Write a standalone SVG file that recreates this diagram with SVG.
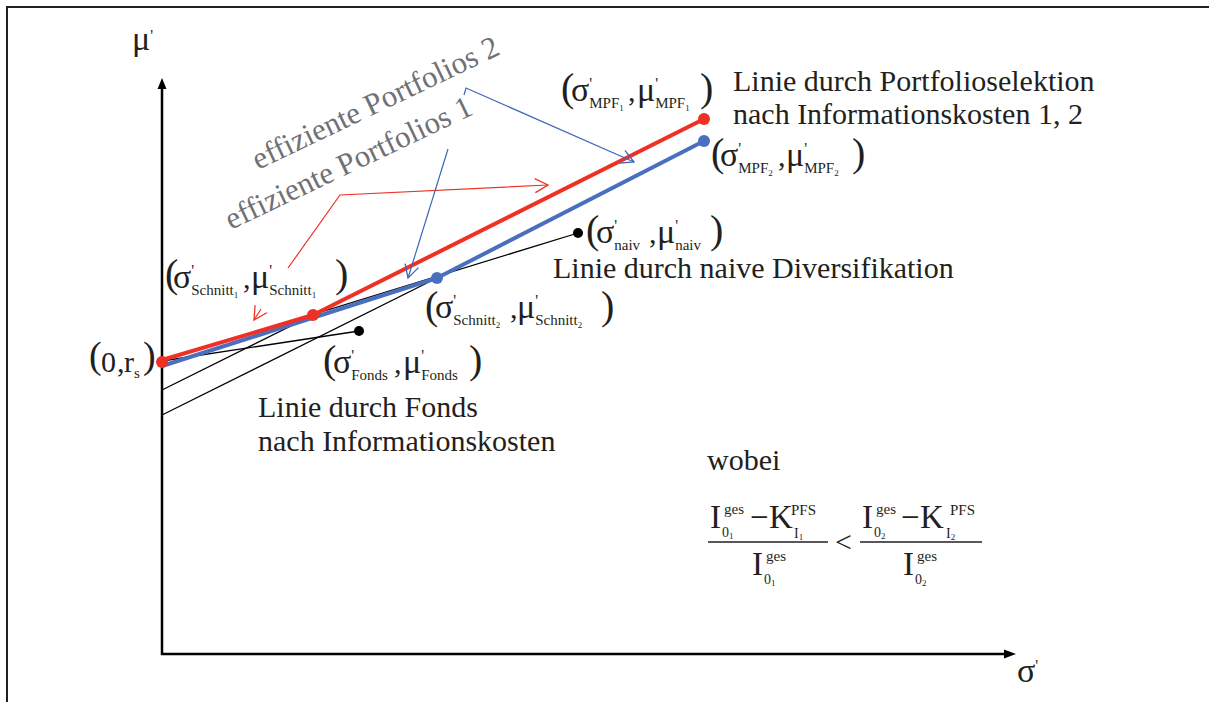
<svg xmlns="http://www.w3.org/2000/svg" width="1209" height="702" viewBox="0 0 1209 702">
  <style>
    .t { font-family: "Liberation Serif", "Times New Roman", serif; fill: #231f20; }
    .big { font-size: 30px; }
    .gr { font-size: 34px; }
    .par { font-size: 40px; }
    .sub { font-size: 15px; }
    .tiny { font-size: 9px; }
    .pr { font-size: 16px; }
    .fi { font-size: 33px; }
    .fs { font-size: 15px; }
    .fsub { font-size: 14px; }
    .gray { font-family: "Liberation Serif", "Times New Roman", serif; font-size: 31px; fill: #707174; }
    .thin { stroke: #000; stroke-width: 1.3; fill: none; }
    .red { stroke: #ee3124; stroke-width: 4; fill: none; stroke-linejoin: round; }
    .blue { stroke: #4a6fbf; stroke-width: 4; fill: none; stroke-linejoin: round; }
    .cr { stroke: #ee3124; stroke-width: 1.2; fill: none; }
    .cb { stroke: #3d66b8; stroke-width: 1.2; fill: none; }
    .axis { stroke: #000; stroke-width: 2.5; fill: none; }
  </style>
  <defs>
    <marker id="ahRed" markerUnits="userSpaceOnUse" markerWidth="20" markerHeight="20" viewBox="-15 -10 20 20" refX="0" refY="0" orient="auto">
      <path d="M-13,-7 L0,0 L-13,7" fill="none" stroke="#ee3124" stroke-width="1.3"/>
    </marker>
    <marker id="ahBlue" markerUnits="userSpaceOnUse" markerWidth="20" markerHeight="20" viewBox="-15 -10 20 20" refX="0" refY="0" orient="auto">
      <path d="M-13,-7 L0,0 L-13,7" fill="none" stroke="#3d66b8" stroke-width="1.3"/>
    </marker>
  </defs>

  <rect width="1209" height="702" fill="#fff"/>

  <!-- outer frame (top and left edges) -->
  <path d="M7,702 V7 H1209" fill="none" stroke="#231f20" stroke-width="2"/>

  <!-- axes -->
  <g id="axes">
    <path class="axis" d="M162,655 V88 M161,654 H1005"/>
    <path d="M157.5,89 L162,78 L166.5,89 Z" fill="#000"/>
    <path d="M1004,649.5 L1016,654 L1004,658.5 Z" fill="#000"/>
    <text class="t"><tspan class="gr" x="132" y="50">μ</tspan><tspan class="pr" y="41">'</tspan></text>
    <text class="t"><tspan class="gr" x="1017" y="682">σ</tspan><tspan class="pr" y="671">'</tspan></text>
  </g>

  <!-- lines and callout arrows -->
  <g id="connectors">
    <line class="thin" x1="162" y1="390" x2="313" y2="315"/>
    <line class="thin" x1="162" y1="415" x2="437" y2="278"/>
    <line class="thin" x1="162" y1="361" x2="578" y2="233"/>
    <line class="thin" x1="162" y1="361" x2="359" y2="331"/>
    <polyline class="blue" points="162,366 437,278 704,141"/>
    <polyline class="red" points="162,360 313,315 704,119"/>
    <polyline class="cr" points="288,268 340,195 548,185" marker-end="url(#ahRed)"/>
    <line class="cr" x1="261" y1="309" x2="254" y2="320" marker-end="url(#ahRed)"/>
    <line class="cb" x1="448" y1="149" x2="408" y2="278" marker-end="url(#ahBlue)"/>
    <polyline class="cb" points="464,95 466,88 634,162" marker-end="url(#ahBlue)"/>
  </g>

  <!-- gray annotations -->
  <g id="eff2">
    <text class="gray" transform="translate(258,170) rotate(-25.5)">effiziente Portfolios 2</text>
  </g>
  <g id="eff1">
    <text class="gray" transform="translate(231,230) rotate(-25.5)">effiziente Portfolios 1</text>
  </g>

  <!-- point (0, r_s) -->
  <g id="p-rs">
    <circle cx="162" cy="362" r="6" fill="#ee3124"/>
    <text class="t"><tspan style="font-size:38px" x="89" y="368">(</tspan><tspan class="big" x="101" y="372">0</tspan><tspan class="big" x="117" y="372">,</tspan><tspan class="big" x="124" y="372">r</tspan><tspan class="sub" x="134" y="378">s</tspan><tspan style="font-size:38px" x="143" y="368">)</tspan></text>
  </g>

  <!-- Schnitt 1 -->
  <g id="p-schnitt1">
    <circle cx="313" cy="315" r="6" fill="#ee3124"/>
    <text class="t"><tspan class="par" x="165" y="287">(</tspan><tspan class="gr" x="173" y="288">σ</tspan><tspan class="pr" y="276">'</tspan><tspan class="sub" dx="-3" y="295">Schnitt</tspan><tspan class="tiny" y="298">1</tspan><tspan class="big" x="243" y="288">,</tspan><tspan class="gr" x="251" y="288">μ</tspan><tspan class="pr" y="276">'</tspan><tspan class="sub" dx="-3" y="295">Schnitt</tspan><tspan class="tiny" y="298">1</tspan><tspan class="par" x="335" y="287">)</tspan></text>
  </g>

  <!-- Schnitt 2 -->
  <g id="p-schnitt2">
    <circle cx="437" cy="278" r="6" fill="#4a6fbf"/>
    <text class="t"><tspan class="par" x="425" y="319">(</tspan><tspan class="gr" x="435" y="318">σ</tspan><tspan class="pr" y="306">'</tspan><tspan class="sub" dx="-3" y="325">Schnitt</tspan><tspan class="tiny" y="328">2</tspan><tspan class="big" x="510" y="318">,</tspan><tspan class="gr" x="517" y="318">μ</tspan><tspan class="pr" y="306">'</tspan><tspan class="sub" dx="-3" y="325">Schnitt</tspan><tspan class="tiny" y="328">2</tspan><tspan class="par" x="601" y="319">)</tspan></text>
  </g>

  <!-- Fonds -->
  <g id="p-fonds">
    <circle cx="359" cy="331" r="5" fill="#000"/>
    <text class="t"><tspan class="par" x="323" y="373">(</tspan><tspan class="gr" x="333" y="373">σ</tspan><tspan class="pr" y="361">'</tspan><tspan class="sub" dx="-3" y="380">Fonds</tspan><tspan class="big" x="394" y="373">,</tspan><tspan class="gr" x="403" y="373">μ</tspan><tspan class="pr" y="361">'</tspan><tspan class="sub" dx="-3" y="380">Fonds</tspan><tspan class="par" x="469" y="373">)</tspan></text>
  </g>

  <!-- naive diversification -->
  <g id="p-naiv">
    <circle cx="578" cy="233" r="5" fill="#000"/>
    <text class="t"><tspan class="par" x="586" y="243">(</tspan><tspan class="gr" x="596" y="243">σ</tspan><tspan class="pr" y="231">'</tspan><tspan class="sub" dx="-3" y="250">naiv</tspan><tspan class="big" x="649" y="243">,</tspan><tspan class="gr" x="657" y="243">μ</tspan><tspan class="pr" y="231">'</tspan><tspan class="sub" dx="-3" y="250">naiv</tspan><tspan class="par" x="710" y="243">)</tspan></text>
  </g>

  <!-- MPF 1 -->
  <g id="p-mpf1">
    <circle cx="704" cy="119" r="6" fill="#ee3124"/>
    <text class="t"><tspan class="par" x="561" y="101">(</tspan><tspan class="gr" x="571" y="101">σ</tspan><tspan class="pr" y="89">'</tspan><tspan class="sub" dx="-3" y="108">MPF</tspan><tspan class="tiny" y="111">1</tspan><tspan class="big" x="628" y="101">,</tspan><tspan class="gr" x="637" y="101">μ</tspan><tspan class="pr" y="89">'</tspan><tspan class="sub" dx="-3" y="108">MPF</tspan><tspan class="tiny" y="111">1</tspan><tspan class="par" x="700" y="101">)</tspan></text>
  </g>

  <!-- MPF 2 -->
  <g id="p-mpf2">
    <circle cx="704" cy="141" r="6" fill="#4a6fbf"/>
    <text class="t"><tspan class="par" x="711" y="166">(</tspan><tspan class="gr" x="720" y="166">σ</tspan><tspan class="pr" y="154">'</tspan><tspan class="sub" dx="-3" y="173">MPF</tspan><tspan class="tiny" y="176">2</tspan><tspan class="big" x="778" y="166">,</tspan><tspan class="gr" x="786" y="166">μ</tspan><tspan class="pr" y="154">'</tspan><tspan class="sub" dx="-3" y="173">MPF</tspan><tspan class="tiny" y="176">2</tspan><tspan class="par" x="852" y="166">)</tspan></text>
  </g>

  <!-- line captions -->
  <g id="cap-pfs">
    <text class="t big" x="733" y="91">Linie durch Portfolioselektion</text>
    <text class="t big" x="733" y="124">nach Informationskosten 1, 2</text>
  </g>
  <g id="cap-naiv">
    <text class="t big" x="553" y="278">Linie durch naive Diversifikation</text>
  </g>
  <g id="cap-fonds">
    <text class="t big" x="258" y="417">Linie durch Fonds</text>
    <text class="t big" x="258" y="451">nach Informationskosten</text>
  </g>

  <!-- condition -->
  <g id="condition">
    <text class="t big" x="707" y="470">wobei</text>
    <!-- left fraction -->
    <text class="t"><tspan class="fi" x="710" y="528">I</tspan><tspan class="fs" x="724" y="514">ges</tspan><tspan class="fsub" x="722" y="537">0</tspan><tspan class="tiny" y="539">1</tspan><tspan class="fi" x="750" y="528">−</tspan><tspan class="fi" x="769" y="528">K</tspan><tspan class="sub" x="791" y="515">PFS</tspan><tspan class="fsub" x="794" y="538">I</tspan><tspan class="tiny" y="540">1</tspan></text>
    <line x1="708" y1="542" x2="828" y2="542" stroke="#231f20" stroke-width="1.3"/>
    <text class="t"><tspan class="fi" x="752" y="575">I</tspan><tspan class="fs" x="766" y="561">ges</tspan><tspan class="fsub" x="764" y="584">0</tspan><tspan class="tiny" y="586">1</tspan></text>
    <text class="t big" x="835" y="552">&lt;</text>
    <!-- right fraction -->
    <text class="t"><tspan class="fi" x="862" y="528">I</tspan><tspan class="fs" x="876" y="514">ges</tspan><tspan class="fsub" x="874" y="537">0</tspan><tspan class="tiny" y="539">2</tspan><tspan class="fi" x="901" y="528">−</tspan><tspan class="fi" x="920" y="528">K</tspan><tspan class="sub" x="950" y="515">PFS</tspan><tspan class="fsub" x="946" y="538">I</tspan><tspan class="tiny" y="540">2</tspan></text>
    <line x1="860" y1="542" x2="982" y2="542" stroke="#231f20" stroke-width="1.3"/>
    <text class="t"><tspan class="fi" x="903" y="575">I</tspan><tspan class="fs" x="917" y="561">ges</tspan><tspan class="fsub" x="915" y="584">0</tspan><tspan class="tiny" y="586">2</tspan></text>
  </g>
</svg>
